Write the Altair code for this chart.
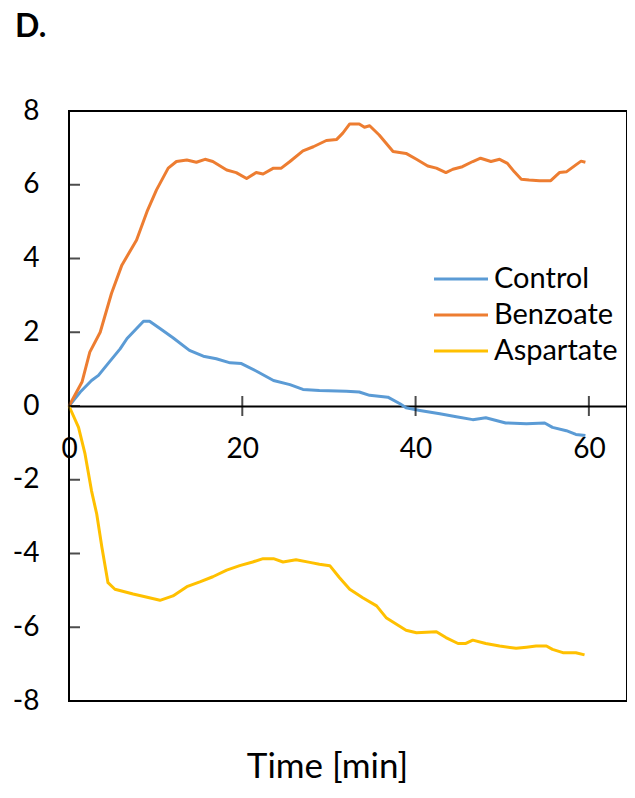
import altair as alt
import pandas as pd

series_names = ["Control", "Benzoate", "Aspartate"]
series_colors = ["#5B9BD5", "#ED7D31", "#FFC000"]

control_t = [0, 1.3, 2.6, 3.4, 4.5, 5.9, 6.7, 7.8, 8.6, 9.3,
             10.5, 12.0, 13.9, 15.5, 17.0, 18.6, 19.9, 21.6, 23.6, 25.5,
             27.0, 28.9, 32.0, 33.5, 34.7, 36.8, 38.2, 38.9, 40.5, 42.8,
             44.7, 46.6, 48.1, 50.4, 52.8, 54.9, 55.8, 57.4, 58.5, 59.6]
control_v = [0, 0.38, 0.69, 0.83, 1.15, 1.55, 1.83, 2.1, 2.3, 2.3,
             2.1, 1.85, 1.51, 1.35, 1.28, 1.17, 1.15, 0.95, 0.69, 0.58,
             0.45, 0.42, 0.4, 0.38, 0.29, 0.24, 0.06, -0.05, -0.12, -0.21,
             -0.29, -0.37, -0.32, -0.46, -0.48, -0.46, -0.58, -0.67, -0.77, -0.80]

benzoate_t = [0, 1.5, 2.4, 3.6, 4.9, 6.1, 7.8, 9.0, 10.1, 11.45,
              12.4, 13.6, 14.7, 15.7, 16.6, 18.2, 19.3, 20.5, 21.6, 22.4,
              23.6, 24.5, 25.5, 27.0, 28.2, 29.7, 30.9, 31.6, 32.4, 33.5,
              34.1, 34.7, 35.8, 37.4, 38.9, 40.1, 41.4, 42.4, 43.5, 44.3,
              45.4, 46.6, 47.5, 48.7, 49.7, 50.6, 51.4, 52.2, 53.1, 54.3,
              55.6, 56.6, 57.4, 58.5, 59.1, 59.6]
benzoate_v = [0, 0.65, 1.46, 2.0, 3.05, 3.82, 4.5, 5.27, 5.86, 6.45,
              6.63, 6.67, 6.61, 6.69, 6.63, 6.4, 6.33, 6.17, 6.33, 6.29,
              6.45, 6.45, 6.63, 6.92, 7.03, 7.2, 7.23, 7.4, 7.65, 7.65,
              7.56, 7.6, 7.35, 6.9, 6.85, 6.69, 6.51, 6.45, 6.33, 6.42,
              6.49, 6.63, 6.72, 6.63, 6.69, 6.58, 6.35, 6.15, 6.13, 6.11,
              6.11, 6.33, 6.35, 6.54, 6.64, 6.61]

aspartate_t = [0, 1.1, 1.85, 2.6, 3.2, 3.8, 4.5, 5.3, 7.4, 8.9,
               10.5, 12.0, 13.6, 15.1, 16.6, 18.2, 19.7, 21.2, 22.4, 23.6,
               24.7, 26.2, 27.8, 28.9, 30.1, 31.2, 32.4, 33.9, 35.5, 36.6,
               38.9, 40.1, 42.4, 43.5, 44.9, 45.8, 46.6, 48.1, 49.7, 51.6,
               52.8, 53.9, 55.1, 55.8, 57.0, 58.5, 59.5]
aspartate_v = [0, -0.58, -1.3, -2.3, -2.93, -3.84, -4.79, -4.97, -5.1, -5.18,
               -5.27, -5.15, -4.9, -4.77, -4.63, -4.45, -4.33, -4.23, -4.14, -4.14,
               -4.23, -4.17, -4.24, -4.29, -4.33, -4.65, -4.97, -5.2, -5.42, -5.74,
               -6.08, -6.15, -6.12, -6.28, -6.44, -6.44, -6.35, -6.44, -6.51, -6.57,
               -6.54, -6.51, -6.51, -6.6, -6.69, -6.69, -6.75]

x_ticks = [0, 20, 40, 60]
y_ticks = [-8, -6, -4, -2, 0, 2, 4, 6, 8]

rows = []
for name, ts, vs in [("Control", control_t, control_v),
                     ("Benzoate", benzoate_t, benzoate_v),
                     ("Aspartate", aspartate_t, aspartate_v)]:
    for i, (t, v) in enumerate(zip(ts, vs)):
        rows.append({"Series": name, "Time": t, "Value": v, "order": i})
df = pd.DataFrame(rows)

FONT = "Lato"
x_scale = alt.Scale(domain=[0, 64.4], nice=False, zero=False)
y_scale = alt.Scale(domain=[-8, 8], nice=False)

lines = alt.Chart(df).mark_line(strokeWidth=3, strokeJoin="round").encode(
    x=alt.X("Time:Q", scale=x_scale,
            axis=alt.Axis(values=x_ticks, title="Time [min]", offset=-295,
                          ticks=False, tickSize=0, domain=True, domainColor="black",
                          domainWidth=2, grid=False, labelFontSize=28, labelFont=FONT,
                          labelColor="black", labelPadding=29, labelBaseline="top",
                          labelFlush=False, labelExpr="toString(datum.value)",
                          titleFont=FONT, titleFontSize=35, titleFontWeight="normal",
                          titleColor="black", titleX=258, titleY=371,
                          titleBaseline="alphabetic", titleAlign="center")),
    y=alt.Y("Value:Q", scale=y_scale,
            axis=alt.Axis(values=y_ticks, title=None, ticks=False, tickSize=0,
                          domain=False, grid=False, labelFontSize=28, labelFont=FONT,
                          labelColor="black", labelPadding=30,
                          labelExpr="toString(datum.value)")),
    color=alt.Color("Series:N",
                    scale=alt.Scale(domain=series_names, range=series_colors),
                    sort=series_names,
                    legend=alt.Legend(title=None, orient="none", legendX=377, legendY=153,
                                      symbolType="M-2,0H2", symbolSize=729,
                                      symbolStrokeWidth=3, labelFont=FONT,
                                      labelFontSize=29, labelColor="black",
                                      rowPadding=6, padding=0, labelOffset=18)),
    order="order:Q",
)

ytick_df = pd.DataFrame({"v": y_ticks})
yticks = alt.Chart(ytick_df).mark_tick(orient="horizontal", size=11, thickness=2,
                                       color="black", xOffset=5.5).encode(
    y=alt.Y("v:Q", scale=y_scale), x=alt.datum(0))

xtick_df = pd.DataFrame({"t": x_ticks})
xticks = alt.Chart(xtick_df).mark_tick(orient="vertical", size=20, thickness=2,
                                       color="black").encode(
    x=alt.X("t:Q", scale=x_scale), y=alt.datum(0))

chart = alt.layer(lines, yticks, xticks).properties(
    width=558, height=590,
    autosize=alt.AutoSizeParams(type="none"),
    padding={"left": 61, "top": 103, "right": 0, "bottom": 83},
    title=alt.TitleParams("D.", anchor="start", frame="group", font=FONT, fontSize=32,
                          fontWeight="bold", color="black", dx=-54, offset=28,
                          baseline="alphabetic"),
).configure(background="white").configure_view(stroke="black", strokeWidth=2)

chart.save("out.html", embed_options={"renderer": "svg", "actions": False})
